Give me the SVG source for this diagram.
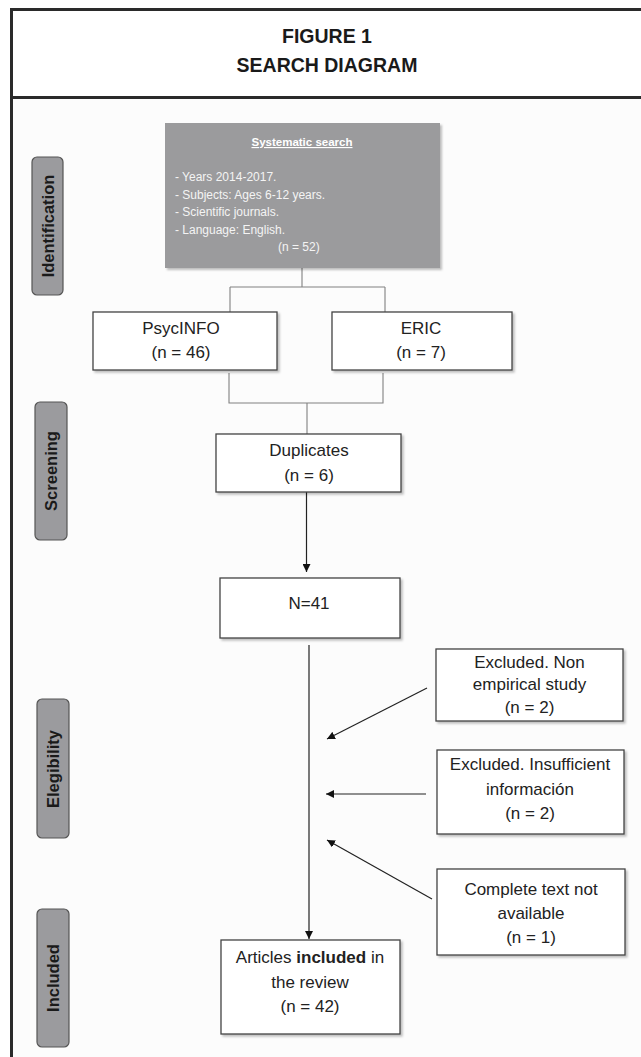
<svg xmlns="http://www.w3.org/2000/svg" width="641" height="1057" viewBox="0 0 641 1057">
  <defs>
    <filter id="sh" x="-5%" y="-5%" width="115%" height="125%">
      <feDropShadow dx="2" dy="2" stdDeviation="1.2" flood-color="#000" flood-opacity="0.25"/>
    </filter>
    <marker id="ah" viewBox="0 0 10 10" refX="10" refY="5" markerWidth="8" markerHeight="8" markerUnits="userSpaceOnUse" orient="auto">
      <path d="M0,0 L10,5 L0,10 z" fill="#111"/>
    </marker>
  </defs>
  <style>
    .box { fill: #ffffff; stroke: #444; stroke-width: 1.3; }
    .lbl { fill: #9b9b9e; stroke: #555; stroke-width: 1.2; }
    .lt { font-family: "Liberation Sans", Arial, sans-serif; font-weight: bold; font-size: 16.5px; fill: #1a1a1a; text-anchor: middle; }
    .t { font-family: "Liberation Sans", Arial, sans-serif; font-size: 17px; fill: #222; text-anchor: middle; }
    .s { font-family: "Liberation Sans", Arial, sans-serif; font-size: 12px; fill: #f4f4f4; }
    .hd { font-family: "Liberation Sans", Arial, sans-serif; font-weight: bold; font-size: 19.5px; fill: #1a1a1a; text-anchor: middle; }
    .tree { fill: none; stroke: #808080; stroke-width: 1.1; }
    .ar { fill: none; stroke: #222; stroke-width: 1.2; }
  </style>

  <!-- background and frame -->
  <rect x="0" y="0" width="641" height="1057" fill="#ffffff"/>
  <rect x="11" y="98" width="630" height="959" fill="#fcfcfc"/>
  <g id="frame" fill="none" stroke="#2a2a2a" stroke-width="3">
    <line x1="11" y1="9.5" x2="641" y2="9.5"/>
    <line x1="11" y1="97.5" x2="641" y2="97.5"/>
    <line x1="11.5" y1="8" x2="11.5" y2="1057"/>
  </g>

  <g id="header">
    <text class="hd" x="327" y="43">FIGURE 1</text>
    <text class="hd" x="327" y="72">SEARCH DIAGRAM</text>
  </g>

  <!-- stage labels -->
  <g id="label-identification">
    <rect class="lbl" x="32" y="157" width="31" height="138" rx="5"/>
    <text class="lt" transform="translate(53.5,226) rotate(-90)">Identification</text>
  </g>
  <g id="label-screening">
    <rect class="lbl" x="35" y="402" width="32" height="138" rx="5"/>
    <text class="lt" transform="translate(57,471) rotate(-90)">Screening</text>
  </g>
  <g id="label-elegibility">
    <rect class="lbl" x="37" y="699" width="32" height="139" rx="5"/>
    <text class="lt" transform="translate(59,769) rotate(-90)">Elegibility</text>
  </g>
  <g id="label-included">
    <rect class="lbl" x="37" y="909" width="32" height="138" rx="5"/>
    <text class="lt" transform="translate(59,978) rotate(-90)">Included</text>
  </g>

  <!-- connectors -->
  <g id="connectors">
    <path class="tree" d="M302,268 V287 M230,287 H385 M230,287 V312 M385,287 V312"/>
    <path class="tree" d="M229,373 V403 H383 V373 M307,403 V434"/>
    <line class="ar" x1="306.5" y1="492" x2="306.5" y2="572" marker-end="url(#ah)"/>
    <line class="ar" x1="309" y1="645" x2="309" y2="939" marker-end="url(#ah)"/>
    <line class="ar" x1="427" y1="688" x2="327" y2="739" marker-end="url(#ah)"/>
    <line class="ar" x1="426" y1="794" x2="326" y2="794" marker-end="url(#ah)"/>
    <line class="ar" x1="432" y1="899" x2="327" y2="840" marker-end="url(#ah)"/>
  </g>

  <!-- nodes -->
  <g id="systematic-search">
    <rect x="165" y="123" width="275" height="145" fill="#9b9b9d" filter="url(#sh)"/>
    <text x="302" y="146" text-anchor="middle" font-family="Liberation Sans, Arial, sans-serif" font-weight="bold" font-size="11.5" fill="#ffffff" text-decoration="underline">Systematic search</text>
    <text class="s" x="175" y="181">- Years 2014-2017.</text>
    <text class="s" x="175" y="198.5">- Subjects: Ages 6-12 years.</text>
    <text class="s" x="175" y="216">- Scientific journals.</text>
    <text class="s" x="175" y="233.5">- Language: English.</text>
    <text class="s" x="278" y="251">(n = 52)</text>
  </g>

  <g id="psycinfo">
    <rect class="box" x="93" y="312" width="184" height="58" filter="url(#sh)"/>
    <text class="t" x="181" y="334">PsycINFO</text>
    <text class="t" x="181" y="358">(n = 46)</text>
  </g>

  <g id="eric">
    <rect class="box" x="332" y="312" width="180" height="58" filter="url(#sh)"/>
    <text class="t" x="421" y="334">ERIC</text>
    <text class="t" x="421" y="358">(n = 7)</text>
  </g>

  <g id="duplicates">
    <rect class="box" x="216" y="434" width="185" height="58" filter="url(#sh)"/>
    <text class="t" x="309" y="456">Duplicates</text>
    <text class="t" x="309" y="481">(n = 6)</text>
  </g>

  <g id="n41">
    <rect class="box" x="220" y="578" width="180" height="60" filter="url(#sh)"/>
    <text class="t" x="309" y="609">N=41</text>
  </g>

  <g id="excluded-non-empirical">
    <rect class="box" x="436" y="649" width="187" height="72" filter="url(#sh)"/>
    <text class="t" x="529.5" y="668">Excluded. Non</text>
    <text class="t" x="529.5" y="690">empirical study</text>
    <text class="t" x="529.5" y="713">(n = 2)</text>
  </g>

  <g id="excluded-insufficient">
    <rect class="box" x="437" y="750" width="187" height="84" filter="url(#sh)"/>
    <text class="t" x="530" y="770">Excluded. Insufficient</text>
    <text class="t" x="530" y="795">información</text>
    <text class="t" x="530" y="819">(n = 2)</text>
  </g>

  <g id="not-available">
    <rect class="box" x="437" y="869" width="188" height="86" filter="url(#sh)"/>
    <text class="t" x="531" y="895">Complete text not</text>
    <text class="t" x="531" y="919">available</text>
    <text class="t" x="531" y="943">(n = 1)</text>
  </g>

  <g id="articles-included">
    <rect class="box" x="221" y="940" width="179" height="94" filter="url(#sh)"/>
    <text class="t" x="310" y="963">Articles <tspan font-weight="bold">included</tspan> in</text>
    <text class="t" x="310" y="988">the review</text>
    <text class="t" x="310" y="1012">(n = 42)</text>
  </g>
</svg>
